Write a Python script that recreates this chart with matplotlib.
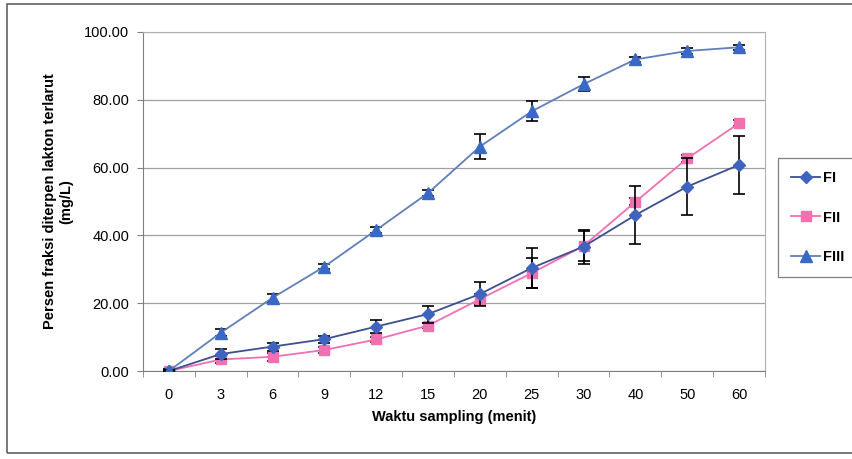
import matplotlib.pyplot as plt
from matplotlib.patches import Rectangle
from matplotlib.lines import Line2D
import numpy as np

plt.rcParams["font.family"] = ["Liberation Sans", "DejaVu Sans"]

waktu = ["0", "3", "6", "9", "12", "15", "20", "25", "30", "40", "50", "60"]

fi = [0.0, 5.0, 7.2, 9.4, 13.1, 16.8, 22.7, 30.4, 36.7, 46.0, 54.4, 60.8]
fi_err = [0.5, 1.5, 1.2, 1.0, 1.8, 2.5, 3.6, 6.0, 5.0, 8.5, 8.5, 8.5]

fii = [0.0, 3.4, 4.2, 6.2, 9.3, 13.4, 21.2, 28.9, 36.9, 49.9, 62.7, 73.1]
fii_err = [0.3, 1.0, 1.2, 0.8, 0.8, 0.8, 1.6, 4.5, 4.5, 1.0, 1.0, 0.8]

fiii = [0.0, 11.3, 21.6, 30.8, 41.6, 52.5, 66.2, 76.6, 84.6, 91.9, 94.4, 95.5]
fiii_err = [0.3, 1.0, 1.2, 0.8, 0.8, 1.0, 3.8, 3.0, 2.0, 0.8, 0.8, 0.8]

c_fi_line = "#3d4f8f"
c_fi_mk = "#3f64c0"
c_fii = "#f070b0"
c_fiii_line = "#5f80b8"
c_fiii_mk = "#3a68c6"

fig = plt.figure(figsize=(8.52, 4.59), dpi=100)
ax = fig.add_axes([0.1678, 0.1917, 0.7301, 0.7386])

x = np.arange(len(waktu))

ax.errorbar(x, fi, yerr=fi_err, color=c_fi_line, marker="D", markersize=6,
            markerfacecolor=c_fi_mk, markeredgecolor=c_fi_mk, linewidth=1.3,
            ecolor="black", elinewidth=1.2, capsize=4, capthick=1.2, zorder=4)
ax.errorbar(x, fii, yerr=fii_err, color=c_fii, marker="s", markersize=7,
            markerfacecolor=c_fii, markeredgecolor=c_fii, linewidth=1.3,
            ecolor="black", elinewidth=1.2, capsize=4, capthick=1.2, zorder=3)
ax.errorbar(x, fiii, yerr=fiii_err, color=c_fiii_line, marker="^", markersize=8,
            markerfacecolor=c_fiii_mk, markeredgecolor=c_fiii_mk, linewidth=1.3,
            ecolor="black", elinewidth=1.2, capsize=4, capthick=1.2, zorder=5)

ax.set_xlim(-0.5, len(waktu) - 0.5)
ax.set_ylim(0, 100)
ax.set_xticks(x)
ax.set_xticklabels(waktu, fontsize=10.5)
ax.set_xticks(np.arange(-0.5, len(waktu)), minor=True)
ax.tick_params(axis="x", which="major", length=0, pad=12)
ax.tick_params(axis="x", which="minor", length=4, color="#808080", direction="out")
ax.set_yticks(np.arange(0, 101, 20))
ax.set_yticklabels(["%.2f" % v for v in np.arange(0, 101, 20)], fontsize=10.5)
ax.tick_params(axis="y", length=4, color="#808080", direction="out", pad=6)

ax.grid(axis="y", color="#a0a0a0", linewidth=0.9)
ax.set_axisbelow(True)
for side in ["top", "right"]:
    ax.spines[side].set_color("#b0b0b0")
for side in ["left", "bottom"]:
    ax.spines[side].set_color("#808080")

ax.set_xlabel("Waktu sampling (menit)", fontsize=10.5, fontweight="bold", labelpad=6)
ax.set_ylabel("Persen fraksi diterpen lakton terlarut\n(mg/L)", fontsize=10.5,
              fontweight="bold", labelpad=8)

handles = [
    Line2D([], [], color=c_fi_line, marker="D", markersize=6,
           markerfacecolor=c_fi_mk, markeredgecolor=c_fi_mk, linewidth=1.3),
    Line2D([], [], color=c_fii, marker="s", markersize=7,
           markerfacecolor=c_fii, markeredgecolor=c_fii, linewidth=1.3),
    Line2D([], [], color=c_fiii_line, marker="^", markersize=8,
           markerfacecolor=c_fiii_mk, markeredgecolor=c_fiii_mk, linewidth=1.3),
]
leg = fig.legend(handles, ["FI", "FII", "FIII"], loc="upper left",
                 bbox_to_anchor=(0.913, 0.656), fontsize=10.5, frameon=True,
                 fancybox=False, edgecolor="#606060", labelspacing=1.75,
                 handlelength=2.0, handletextpad=0.2, borderpad=0.9,
                 borderaxespad=0.0)
leg.get_frame().set_linewidth(0.9)
for t in leg.get_texts():
    t.set_fontweight("bold")

fig.patches.append(Rectangle((0.008, 0.012), 1.2, 0.98, transform=fig.transFigure,
                             fill=False, edgecolor="#606060", linewidth=1.2))

fig.savefig("out.png", dpi=100)
